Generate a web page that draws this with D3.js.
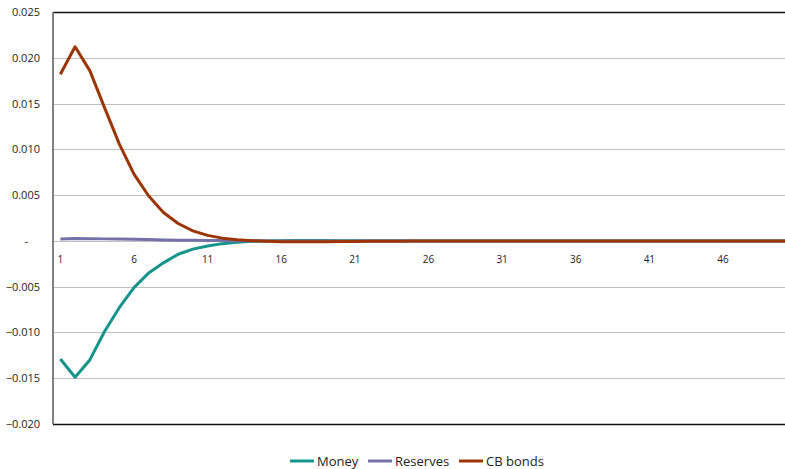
<!DOCTYPE html>
<html>
<head>
<meta charset="utf-8">
<script src="https://cdn.jsdelivr.net/npm/d3@7"></script>
<style>
  body { margin: 0; background: #fff; }
  text { font-family: "Open Sans", "Noto Sans", sans-serif; fill: #222; }
</style>
</head>
<body>
<script>
// chart size
var w = 785;
var h = 469;

// periods 1..51 (the last one runs off the right edge)
var periods = d3.range(1, 52);

// impulse responses
var money = [-0.0129, -0.0149, -0.0130, -0.0099, -0.0073, -0.0051, -0.0035, -0.0024, -0.00146, -0.0009,
  -0.00055, -0.0003, -0.00015, -0.00005, 0.0, 0.00002, 0.00003, 0.00003, 0.00003, 0.00002,
  0.00002, 0.00001, 0.00001, 0.00001, 0, 0, 0, 0, 0, 0,
  0, 0, 0, 0, 0, 0, 0, 0, 0, 0,
  0, 0, 0, 0, 0, 0, 0, 0, 0, 0, 0];
var reserves = [0.0002, 0.00025, 0.00024, 0.00022, 0.0002, 0.00017, 0.00014, 0.00011, 0.00008, 0.00006,
  0.00004, 0.00003, 0.00002, 0.00001, 0, 0, 0, 0, 0, 0,
  0, 0, 0, 0, 0, 0, 0, 0, 0, 0,
  0, 0, 0, 0, 0, 0, 0, 0, 0, 0,
  0, 0, 0, 0, 0, 0, 0, 0, 0, 0, 0];
var cbBonds = [0.0182, 0.0212, 0.0186, 0.01455, 0.0106, 0.0073, 0.0049, 0.0031, 0.0019, 0.0011,
  0.0006, 0.0003, 0.00012, 0.00002, -0.00005, -0.0001, -0.0001, -0.0001, -0.0001, -0.00008,
  -0.00006, -0.00005, -0.00004, -0.00003, -0.00002, -0.00001, -0.00001, 0, 0, 0,
  0, 0, 0, 0, 0, 0, 0, 0, 0, 0,
  0, 0, 0, 0, 0, 0, 0, 0, 0, 0, 0];

var seriesNames = ["Money", "Reserves", "CB bonds"];
var seriesColors = ["#16938b", "#7470a8", "#9c3505"];
var yTicks = [0.025, 0.02, 0.015, 0.01, 0.005, 0, -0.005, -0.01, -0.015, -0.02];
var xLabels = [1, 6, 11, 16, 21, 26, 31, 36, 41, 46];

var series = [money, reserves, cbBonds];

var plotLeft = 53, plotTop = 12, plotW = 751, plotBottom = 424;

var svg = d3.select("body").append("svg")
  .attr("width", w)
  .attr("height", h);

var x = d3.scaleBand()
  .domain(periods)
  .range([plotLeft, plotLeft + plotW]);

var y = d3.scaleLinear()
  .domain([-0.02, 0.025])
  .range([plotBottom, plotTop]);

// gridlines
svg.append("g")
  .selectAll("line")
  .data(yTicks)
  .enter().append("line")
  .attr("x1", plotLeft)
  .attr("x2", w)
  .attr("y1", function(d) { return Math.round(y(d)) + 0.5; })
  .attr("y2", function(d) { return Math.round(y(d)) + 0.5; })
  .attr("stroke", function(d) { return (d == 0.025 || d == -0.02) ? "#111" : "#c0c0c0"; })
  .attr("stroke-width", function(d) { return (d == 0.025 || d == -0.02) ? 1.3 : 1; });

// left axis line
svg.append("line")
  .attr("x1", plotLeft).attr("x2", plotLeft)
  .attr("y1", plotTop).attr("y2", plotBottom)
  .attr("stroke", "#808080")
  .attr("stroke-width", 2);

// y labels
svg.append("g")
  .selectAll("text")
  .data(yTicks)
  .enter().append("text")
  .attr("x", function(d) { return d == 0 ? 28 : 40; })
  .attr("y", function(d) { return y(d) + 4; })
  .attr("text-anchor", "end")
  .attr("font-size", "11px")
  .text(function(d) { return d == 0 ? "-" : d3.format(".3f")(d); });

// x labels
svg.append("g")
  .selectAll("text")
  .data(xLabels)
  .enter().append("text")
  .attr("x", function(d) { return x(d) + x.bandwidth() / 2; })
  .attr("y", y(0) + 22)
  .attr("text-anchor", "middle")
  .attr("font-size", "10px")
  .text(function(d) { return d; });

var line = d3.line()
  .x(function(d, i) { return x(periods[i]) + x.bandwidth() / 2; })
  .y(function(d) { return y(d); });

svg.append("g")
  .selectAll("path")
  .data(series)
  .enter().append("path")
  .attr("d", line)
  .attr("fill", "none")
  .attr("stroke", function(d, i) { return seriesColors[i]; })
  .attr("stroke-width", 3)
  .attr("stroke-linejoin", "round");

// legend
var legendX = [290, 368, 459];
var legend = svg.append("g");
seriesNames.forEach(function(name, i) {
  legend.append("line")
    .attr("x1", legendX[i]).attr("x2", legendX[i] + 24)
    .attr("y1", 461).attr("y2", 461)
    .attr("stroke", seriesColors[i])
    .attr("stroke-width", 3);
  legend.append("text")
    .attr("x", legendX[i] + 27)
    .attr("y", 466)
    .attr("font-size", "13px")
    .text(name);
});
</script>
</body>
</html>
